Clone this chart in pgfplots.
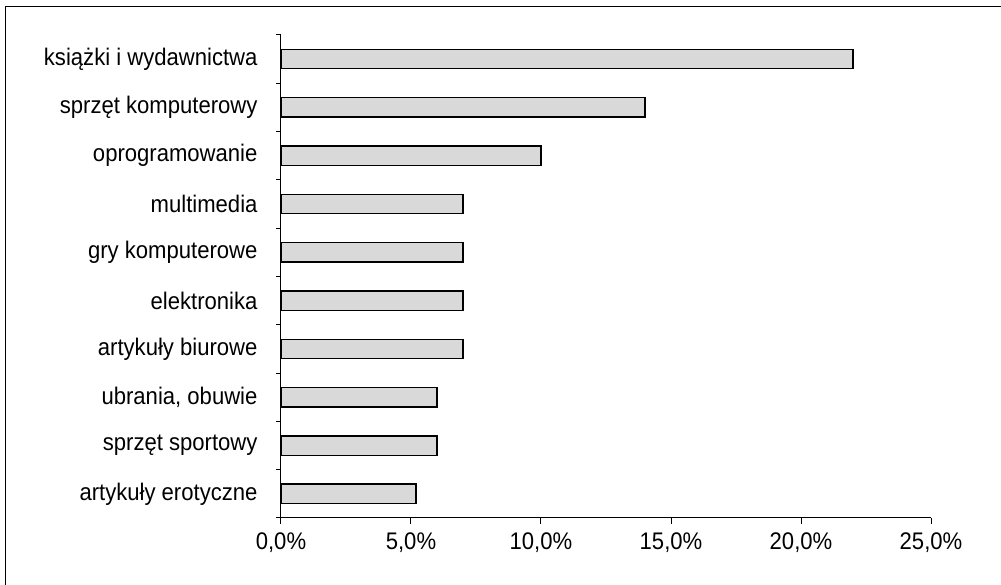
\documentclass[border=0pt]{standalone}
\usepackage{pgfplots}
\pgfplotsset{compat=1.18}
\usepackage{fontspec}
\setmainfont{Liberation Sans}[FakeStretch=0.92]
\definecolor{barfill}{RGB}{217,217,217}

\begin{document}
\begin{tikzpicture}[x=1pt,y=1pt]
\begin{axis}[
  at={(0pt,0pt)}, anchor=south west,
  scale only axis,
  width=650pt, height=483pt,
  xmin=0, xmax=25,
  ymin=-0.5, ymax=9.5,
  axis x line*=bottom,
  axis y line*=left,
  axis line style={line width=1pt, black},
  xtick={0,5,10,15,20,25},
  xticklabels={{0,0\%},{5,0\%},{10,0\%},{15,0\%},{20,0\%},{25,0\%}},
  ytick={0,...,9},
  yticklabels={artykuły erotyczne, sprzęt sportowy, {ubrania, obuwie}, artykuły biurowe, elektronika, gry komputerowe, multimedia, oprogramowanie, sprzęt komputerowy, książki i wydawnictwa},
  minor ytick={-0.5,0.5,...,9.5},
  tick align=outside,
  major tick length=6pt,
  minor tick length=5pt,
  major y tick style={draw=none},
  minor y tick style={line width=1pt, black},
  major x tick style={line width=1pt, black},
  tick label style={font=\fontsize{24}{27}\selectfont, text=black},
  yticklabel style={xshift=-14pt},
  xticklabel style={yshift=-5pt},
  clip=false,
]
\addplot[xbar, bar width=0.4, fill=barfill, draw=black, line width=1.4pt]
  coordinates {
    (5.2,0) (6,1) (6,2) (7,3) (7,4) (7,5) (7,6) (10,7) (14,8) (22,9)
  };
\end{axis}
\pgfresetboundingbox
\path[use as bounding box] (-281pt,-67pt) rectangle (720pt,518pt);
\draw[line width=1.3pt, black] (-275.5pt,-67pt) -- (-275.5pt,511.5pt) -- (720pt,511.5pt);
\end{tikzpicture}
\end{document}
